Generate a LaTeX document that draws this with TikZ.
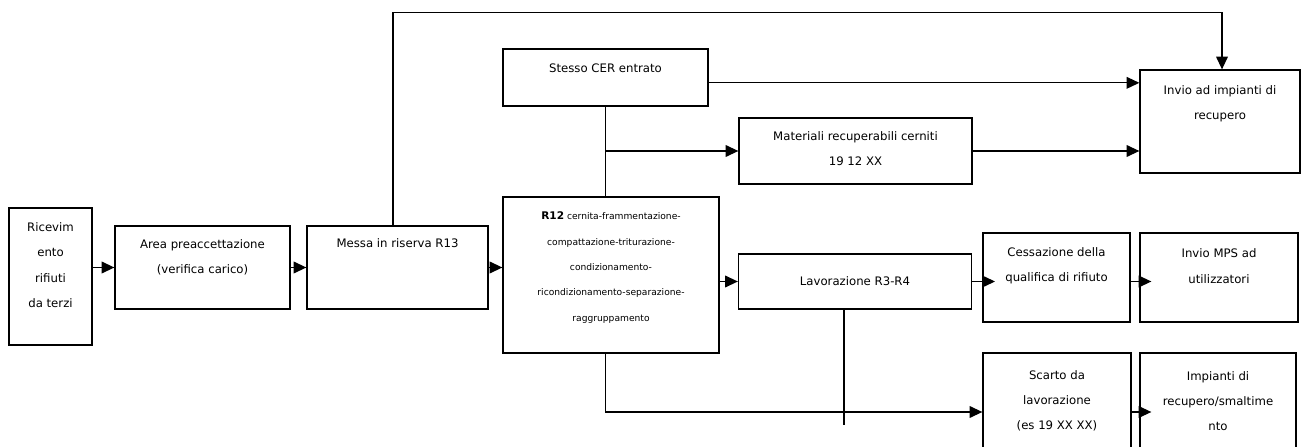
\documentclass[tikz,border=0pt]{standalone}
\usepackage{fontspec}
\setmainfont{DejaVu Sans}
\usetikzlibrary{arrows.meta}

\begin{document}
\begin{tikzpicture}[
    x=0.3mm, y=-0.3mm,
    box/.style = {
      shape=rectangle,
      draw,
      line width=1.1pt,
      inner sep=0pt
    },
    txt/.style = {
      align=center,
      inner sep=0pt,
      font=\fontsize{10}{21.6}\selectfont
    },
    smalltxt/.style = {
      align=center,
      inner sep=0pt,
      font=\fontsize{7.8}{21.6}\selectfont
    },
    arrow/.style = {
      -{Triangle[length=3.8mm, width=3.5mm]},
      line width=1.1pt
    },
    link/.style = {
      line width=1.1pt
    }
  ]

    \useasboundingbox (0,0) rectangle (1303,447);
    \clip (0,0) rectangle (1303,447);

    % Left chain
    \node[box, minimum width=24.9mm, minimum height=41.1mm] (ricev) at (50.5,276.5) {};
    \node[box, minimum width=52.5mm, minimum height=24.9mm] (area)  at (202.5,267.5) {};
    \node[box, minimum width=54.3mm, minimum height=24.9mm] (messa) at (397.5,267.5) {};

    % Middle column
    \node[box, minimum width=61.5mm, minimum height=17.1mm] (stesso) at (605.5,77.5) {};
    \node[box, minimum width=64.8mm, minimum height=46.8mm] (r12)    at (611,275) {};
    \node[box, minimum width=69.9mm, minimum height=19.8mm] (mater)  at (855.5,151) {};
    \node[box, minimum width=69.9mm, minimum height=16.5mm] (lavor)  at (855,281.5) {};

    % Right columns
    \node[box, minimum width=48mm,   minimum height=30.9mm] (invio)    at (1220,121.5) {};
    \node[box, minimum width=44.1mm, minimum height=26.7mm] (cess)     at (1056.5,277.5) {};
    \node[box, minimum width=47.4mm, minimum height=26.7mm] (mps)      at (1219,277.5) {};
    \node[box, minimum width=44.4mm, minimum height=35.4mm] (scarto)   at (1057,412) {};
    \node[box, minimum width=46.8mm, minimum height=35.4mm] (impianti) at (1218,412) {};

    % Texts
    \node[txt] (ricev-t)    at (50.5,265)   {Ricevim\\ento\\rifiuti\\da terzi};
    \node[txt] (area-t)     at (202.5,257.5) {Area preaccettazione\\(verifica carico)};
    \node[txt] (messa-t)    at (397.5,243)  {Messa in riserva R13};
    \node[txt] (stesso-t)   at (605.5,68)   {Stesso CER entrato};
    \node[smalltxt] (r12-t) at (611,267.5)
      {{\fontsize{9}{21.6}\selectfont\textbf{R12}} cernita-frammentazione-\\compattazione-triturazione-\\condizionamento-\\ricondizionamento-separazione-\\raggruppamento};
    \node[txt] (mater-t)    at (855.5,148.5) {Materiali recuperabili cerniti\\19 12 XX};
    \node[txt] (lavor-t)    at (855,281)    {Lavorazione R3-R4};
    \node[txt] (invio-t)    at (1220,103.5) {Invio ad impianti di\\recupero};
    \node[txt] (cess-t)     at (1056.5,266) {Cessazione della\\qualifica di rifiuto};
    \node[txt] (mps-t)      at (1219,266)   {Invio MPS ad\\utilizzatori};
    \node[txt] (scarto-t)   at (1057,401)   {Scarto da\\lavorazione\\(es 19 XX XX)};
    \node[txt] (impianti-t) at (1218,401)   {Impianti di\\recupero/smaltime\\nto};

    % Helper points
    \coordinate (topline) at (393,12.7);
    \coordinate (lavend)  at (844,425);

    % Arrows
    \draw[arrow] (ricev.east |- area.west) -- (area.west);
    \draw[arrow] (area.east) -- (messa.west);
    \draw[arrow] (messa.east) -- (messa.east -| r12.west);
    \draw[arrow] (messa.north -| topline) -- (topline) -| ([xshift=0.6mm]invio.north);
    \draw[arrow] ([yshift=-1.6mm]stesso.east) -- ([yshift=-1.6mm]stesso.east -| invio.west);
    \draw[link]  (stesso.south) -- (stesso.south |- r12.north);
    \draw[arrow] (stesso.south |- mater.west) -- (mater.west);
    \draw[arrow] (mater.east) -- (mater.east -| invio.west);
    \draw[arrow] (r12.east |- lavor.west) -- (lavor.west);
    \draw[arrow, shorten >=-3.8mm] (lavor.east) -- (lavor.east -| cess.west);
    \draw[arrow, shorten >=-3.6mm] (cess.east |- lavor.east) -- (lavor.east -| mps.west);
    \draw[link]  (lavor.south -| lavend) -- (lavend);
    \draw[arrow] (r12.south -| stesso.south) |- (scarto.west);
    \draw[arrow, shorten >=-3.6mm] (scarto.east) -- (impianti.west);

  \end{tikzpicture}
\end{document}
